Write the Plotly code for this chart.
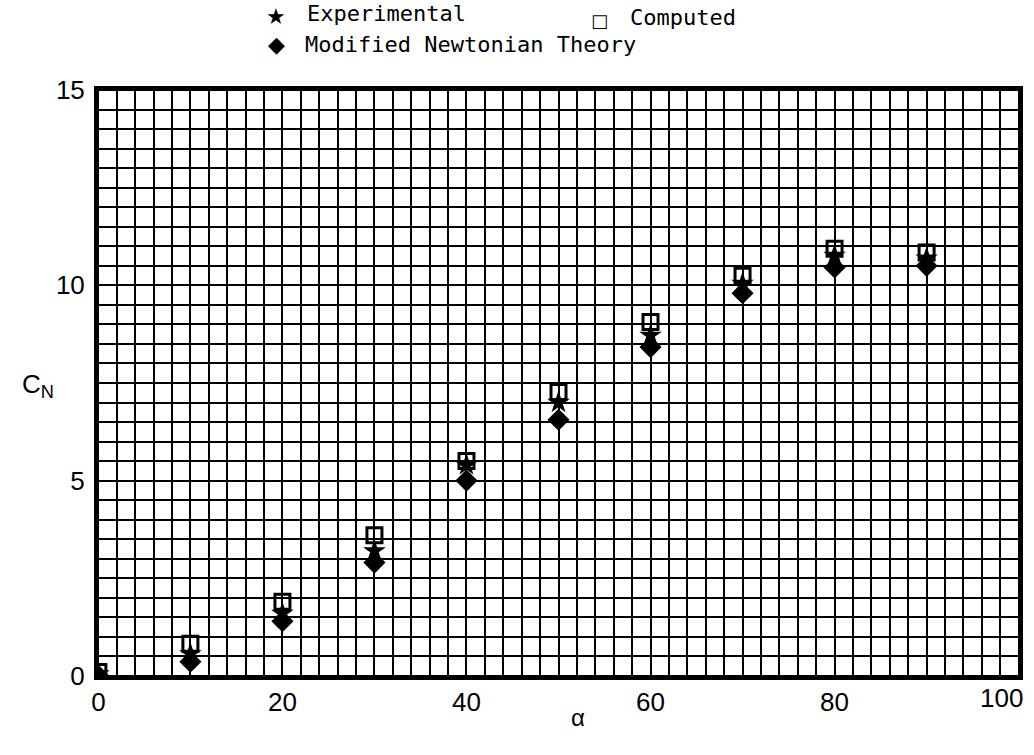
import plotly.graph_objects as go

alpha = [0, 10, 20, 30, 40, 50, 60, 70, 80, 90]
computed = [0.1, 0.82, 1.9, 3.6, 5.5, 7.27, 9.06, 10.25, 10.94, 10.84]
experimental = [0.05, 0.56, 1.6, 3.2, 5.4, 7.0, 8.72, 10.05, 10.77, 10.7]
newtonian = [0.0, 0.36, 1.4, 2.9, 5.0, 6.56, 8.42, 9.8, 10.46, 10.5]

x_ticks = [0, 20, 40, 60, 80]
x_last_tick = 100
y_ticks = [0, 5, 10, 15]

fig = go.Figure()
fig.add_trace(go.Scatter(x=alpha, y=newtonian, mode="markers", name="Modified Newtonian Theory",
                         marker=dict(symbol="diamond", size=17, color="black"), showlegend=False))
fig.add_trace(go.Scatter(x=alpha, y=experimental, mode="markers", name="Experimental",
                         marker=dict(symbol="star", size=17, color="black"), showlegend=False))
fig.add_trace(go.Scatter(x=alpha, y=computed, mode="markers", name="Computed",
                         marker=dict(symbol="square-open", size=15, color="black",
                                     line=dict(width=3, color="black")), showlegend=False))

font_ticks = dict(family="Liberation Sans", size=26, color="black")
fig.update_xaxes(range=[-0.15, 100.15], tickvals=x_ticks, ticktext=[str(v) for v in x_ticks],
                 showgrid=True, gridcolor="black", gridwidth=2.4,
                 minor=dict(dtick=2, showgrid=True, gridcolor="black", gridwidth=2.4),
                 showline=True, mirror=True, linecolor="black", linewidth=3,
                 zeroline=False, ticks="", tickfont=font_ticks)
fig.update_yaxes(range=[-0.03, 15.03], tickvals=y_ticks, ticktext=[str(v) for v in y_ticks],
                 showgrid=True, gridcolor="black", gridwidth=2.4,
                 minor=dict(dtick=0.5, showgrid=True, gridcolor="black", gridwidth=2.4),
                 showline=True, mirror=True, linecolor="black", linewidth=3,
                 zeroline=False, ticks="", tickfont=font_ticks, ticklabelstandoff=4)

L, R, T, B = 97, 1023, 89, 677
mono = dict(family="DejaVu Sans Mono", size=22, color="black")

def put_text(txt, px, py, font=mono, anchor="left"):
    fig.add_annotation(text=txt, x=(px - L) / (R - L), y=(B - py) / (B - T),
                       xref="paper", yref="paper", showarrow=False, font=font,
                       xanchor=anchor, yanchor="middle")

sym = dict(family="DejaVu Sans", size=22, color="black")
put_text("★", 277, 16, sym, "center")
put_text("Experimental", 306, 14)
put_text("□", 601, 20, dict(family="DejaVu Sans", size=18, color="black"), "center")
put_text("Computed", 630, 18)
put_text("◆", 277, 44, sym, "center")
put_text("Modified Newtonian Theory", 304, 44)

put_text("C<sub>N</sub>", 20, 385, dict(family="Liberation Sans", size=26, color="black"))
put_text("α", 580, 717, dict(family="Liberation Sans", size=24, color="black"), "center")

# last x tick label, right-aligned at the plot edge as in the reference
fig.add_annotation(text=str(x_last_tick), x=x_last_tick, xref="x", y=(B - 698) / (B - T), yref="paper",
                   showarrow=False, xanchor="right", yanchor="middle", xshift=6, font=font_ticks)

fig.update_layout(width=1034, height=755, margin=dict(l=L, r=1034 - R, t=T, b=755 - B),
                  plot_bgcolor="white", paper_bgcolor="white")

fig.write_html("out.html")
